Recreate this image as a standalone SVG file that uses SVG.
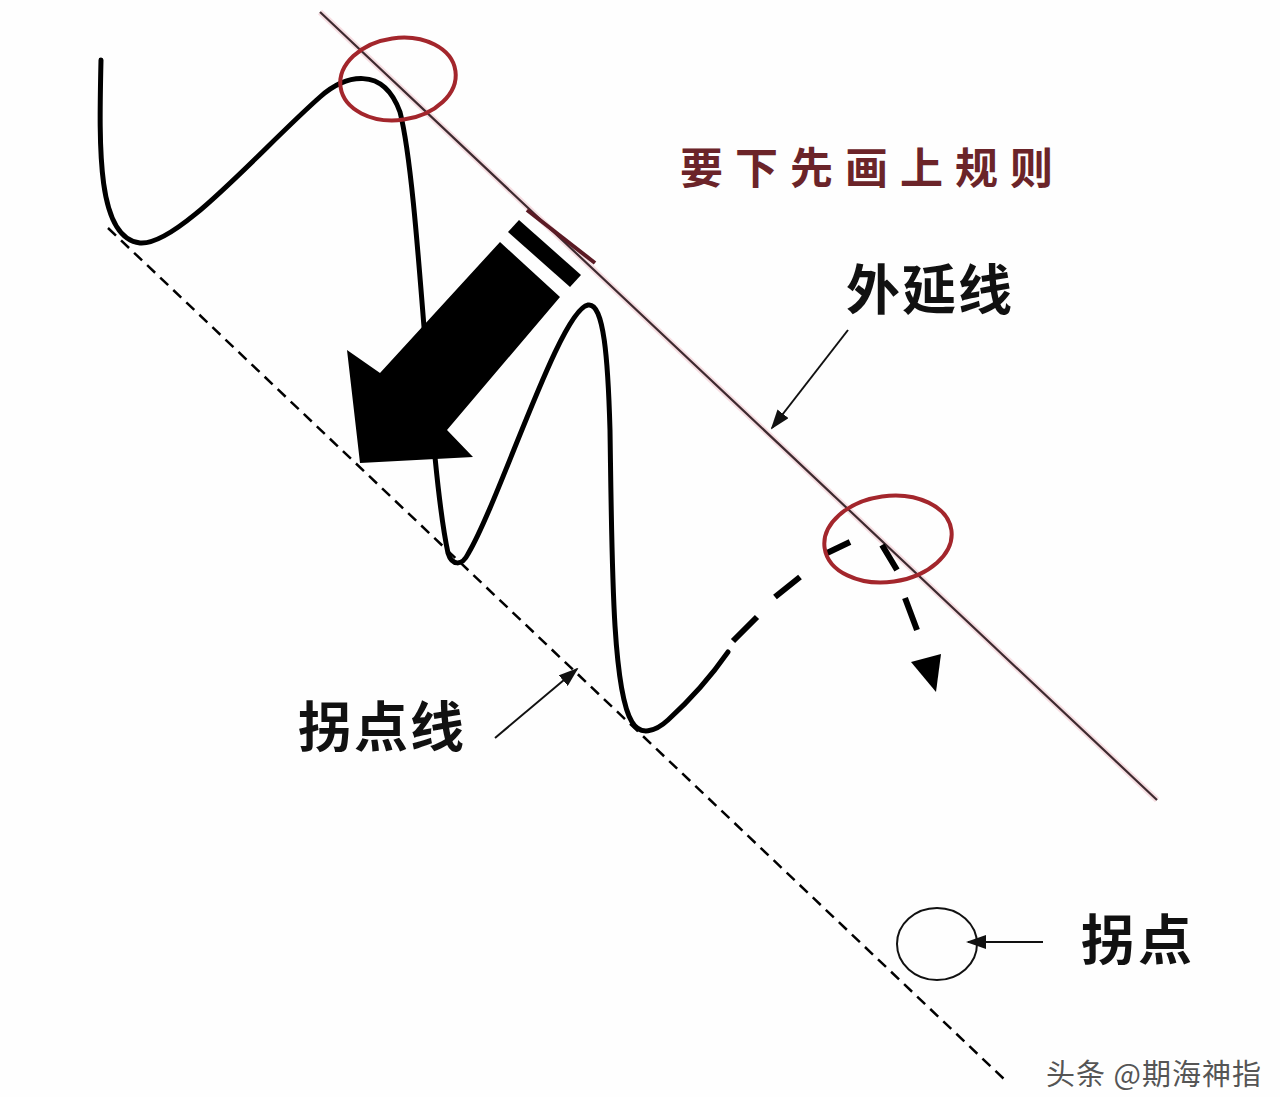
<svg xmlns="http://www.w3.org/2000/svg" width="1280" height="1097" viewBox="0 0 1280 1097">
  <defs>
    <style>
      .cjk { font-family: "Noto Sans CJK SC", "Noto Sans", sans-serif; font-weight: 700; }
      .label { fill: #111; font-size: 54px; }
      .redring { fill: none; stroke: #a3262c; stroke-width: 4; }
      .curve { fill: none; stroke: #000; stroke-width: 5; stroke-linecap: round; stroke-linejoin: round; }
      .pointer { fill: none; stroke: #111; stroke-width: 2; }
    </style>
    <marker id="ah" viewBox="0 0 20 14" refX="18" refY="7" markerWidth="20" markerHeight="14" markerUnits="userSpaceOnUse" orient="auto">
      <path d="M0,0 L20,7 L0,14 Z" fill="#111"/>
    </marker>
  </defs>
  <rect width="1280" height="1097" fill="#fefefe"/>

  <g id="connectors">
    <!-- 外延线 (upper extension line) -->
    <line x1="320" y1="12" x2="1157" y2="800" stroke="#f2c9d0" stroke-width="6" opacity="0.6"/>
    <line id="extension-line" x1="320" y1="12" x2="1157" y2="800" stroke="#3d2a2f" stroke-width="2.2"/>
    <line x1="527" y1="210" x2="595" y2="263" stroke="#5a1a24" stroke-width="4"/>
    <!-- 拐点线 (lower dashed line) -->
    <line id="turning-line" x1="108" y1="228" x2="1005" y2="1080" stroke="#000" stroke-width="2.5" stroke-dasharray="11 7"/>
    <!-- dashed continuation of the price curve -->
    <path d="M733,641 L757,617 M775,597 L800,577 M827,553 L850,542 M882,545 L897,570 M905,598 L917,630" fill="none" stroke="#000" stroke-width="6" stroke-linecap="butt"/>
    <path d="M911,662 L941,654 L936,692 Z" fill="#000"/>
    <!-- label pointers -->
    <line class="pointer" x1="848" y1="330" x2="772" y2="428" marker-end="url(#ah)"/>
    <line class="pointer" x1="495" y1="738" x2="577" y2="669" marker-end="url(#ah)"/>
    <line class="pointer" x1="1043" y1="942" x2="968" y2="942" marker-end="url(#ah)"/>
  </g>

  <g id="price-curve">
    <path class="curve" d="M101,60 C99,150 97,238 140,243 C178,246 260,150 320,97 C345,75 383,65 400,112 C420,190 428,460 448,553 C452,566 462,566 468,554 C500,500 560,310 588,305 C604,302 608,360 610,430 C612,560 612,690 632,722 C640,736 655,732 668,720 C690,700 712,675 728,652"/>
  </g>

  <g id="big-arrow">
    <polygon points="500,242 560,297 447,430 473,457 360,463 347,350 380,373" fill="#000"/>
    <polygon points="519,220 581,275 570,287 508,232" fill="#000"/>
  </g>

  <g id="ring-top">
    <ellipse class="redring" cx="398" cy="79" rx="58" ry="41" transform="rotate(-8 398 79)"/>
  </g>
  <g id="ring-right">
    <ellipse class="redring" cx="888" cy="539" rx="64" ry="43" transform="rotate(-8 888 539)"/>
  </g>

  <g id="title">
    <text class="cjk" x="680" y="184" font-size="43" letter-spacing="12" fill="#6b2429">要下先画上规则</text>
  </g>
  <g id="label-extension">
    <text class="cjk label" x="846" y="310" letter-spacing="2">外延线</text>
  </g>
  <g id="label-turning-line">
    <text class="cjk label" x="298" y="747" letter-spacing="2">拐点线</text>
  </g>
  <g id="turning-point">
    <ellipse cx="937" cy="944" rx="40" ry="36" fill="none" stroke="#111" stroke-width="2"/>
  </g>
  <g id="label-turning-point">
    <text class="cjk label" x="1081" y="960" font-size="55" letter-spacing="3">拐点</text>
  </g>
  <g id="watermark">
    <text x="1262" y="1085" text-anchor="end" font-family="Noto Sans CJK SC, Noto Sans, sans-serif" font-size="29" letter-spacing="1" fill="#555" stroke="#fff" stroke-width="3" paint-order="stroke">头条 @期海神指</text>
  </g>
</svg>
